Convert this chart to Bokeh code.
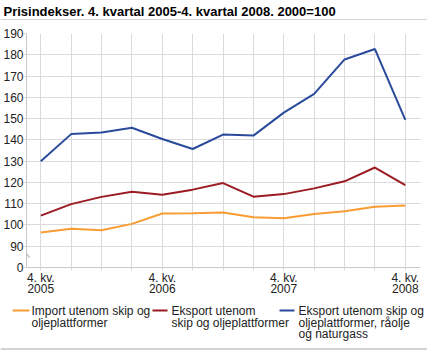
from bokeh.plotting import figure
from bokeh.layouts import column
from bokeh.models import Range1d, FixedTicker, Label
from bokeh.core.properties import value
from bokeh.embed import file_html
from bokeh.resources import INLINE

title = "Prisindekser. 4. kvartal 2005-4. kvartal 2008. 2000=100"
quarters = list(range(13))
tick_labels = {0: "4. kv.\n2005", 4: "4. kv.\n2006", 8: "4. kv.\n2007", 12: "4. kv.\n2008"}
import_vals = [96.4, 98.2, 97.5, 100.5, 105.4, 105.5, 105.9, 103.6, 103.1, 105.2, 106.4, 108.6, 109.1]
eksport_vals = [104.4, 109.8, 113.2, 115.6, 114.2, 116.6, 119.7, 113.3, 114.5, 117.2, 120.5, 127.0, 118.7]
eksport_olje_vals = [129.9, 142.7, 143.5, 145.7, 140.4, 135.7, 142.5, 142.0, 152.8, 161.6, 177.8, 182.7, 149.4]
series_names = ["Import utenom skip og\noljeplattformer",
                "Eksport utenom\nskip og oljeplattformer",
                "Eksport utenom skip og\noljeplattformer, råolje\nog naturgass"]
colors = ["#f89c33", "#9b1b22", "#2a4a9c"]
y_ticks = [80, 90, 100, 110, 120, 130, 140, 150, 160, 170, 180, 190]

FONT = "Liberation Sans"
GRID = "#d9d9de"
L, R = 25, 7


def blank(height, y0, y1):
    f = figure(width=427, height=height, output_backend="svg", toolbar_location=None,
               x_range=Range1d(0, 427), y_range=Range1d(y0, y1), min_border=0,
               x_axis_location=None, y_axis_location=None)
    f.grid.visible = False
    f.outline_line_color = None
    return f


# header
h = blank(20, 20, 0)
h.text(x=[3], y=[11], text=[title], text_font=value(FONT), text_font_size="13px",
       text_font_style="bold", text_baseline="middle", text_color="#000000")
h.line(x=[0, 427], y=[19.5, 19.5], line_color="#a8a8a8", line_width=1)

# main chart
p = figure(width=427, frame_height=234, output_backend="svg", toolbar_location=None,
           x_range=Range1d(-0.47, 12.5), y_range=Range1d(80, 190),
           min_border_left=L, min_border_right=R, min_border_top=13, min_border_bottom=37)
p.outline_line_color = None
for vals, c in zip([import_vals, eksport_vals, eksport_olje_vals], colors):
    p.line(x=quarters, y=vals, line_color=c, line_width=2)

p.xaxis.ticker = FixedTicker(ticks=quarters)
p.xaxis.major_label_overrides = {q: tick_labels.get(q, "") for q in quarters}
p.yaxis.ticker = FixedTicker(ticks=y_ticks)
p.yaxis.major_label_overrides = {80: "0"}
for ax in (p.xaxis, p.yaxis):
    ax.axis_line_color = "#c8c8cc"
    ax.major_tick_line_color = GRID
    ax.major_tick_out = 3
    ax.major_tick_in = 0
    ax.minor_tick_line_color = None
    ax.major_label_text_font = FONT
    ax.major_label_text_font_size = "12px"
    ax.major_label_text_color = "#222222"
    ax.major_label_standoff = 0
    ax.axis_label_standoff = 0
p.xaxis.major_label_text_line_height = 0.85
p.xgrid.ticker = FixedTicker(ticks=quarters)
p.ygrid.ticker = FixedTicker(ticks=y_ticks)
p.grid.grid_line_color = GRID
p.grid.grid_line_width = 1

# axis break mark
p.add_layout(Label(x=-0.5, y=86.0, text="\\\\", text_font=FONT, text_font_size="11px",
                   text_color="#a0a0a0", text_align="center", text_baseline="middle",
                   angle=0.37))

# legend
lg = blank(46, 350, 304)
icon_x = [(12, 29), (152, 167), (279, 294)]
text_x = [31, 171, 298]
for (x0, x1), tx, name, c in zip(icon_x, text_x, series_names, colors):
    lg.line(x=[x0, x1], y=[310, 310], line_color=c, line_width=2)
    lines = name.split("\n")
    lg.text(x=[tx] * len(lines), y=[310.5 + 11.5 * i for i in range(len(lines))], text=lines,
            text_font=value(FONT), text_font_size="12px", text_baseline="middle",
            text_color="#222222")
lg.line(x=[0, 427], y=[348.5, 348.5], line_color="#a8a8a8", line_width=1)

layout = column(column(h), p, column(lg), spacing=0)
open("out.html", "w").write(file_html(layout, INLINE))
